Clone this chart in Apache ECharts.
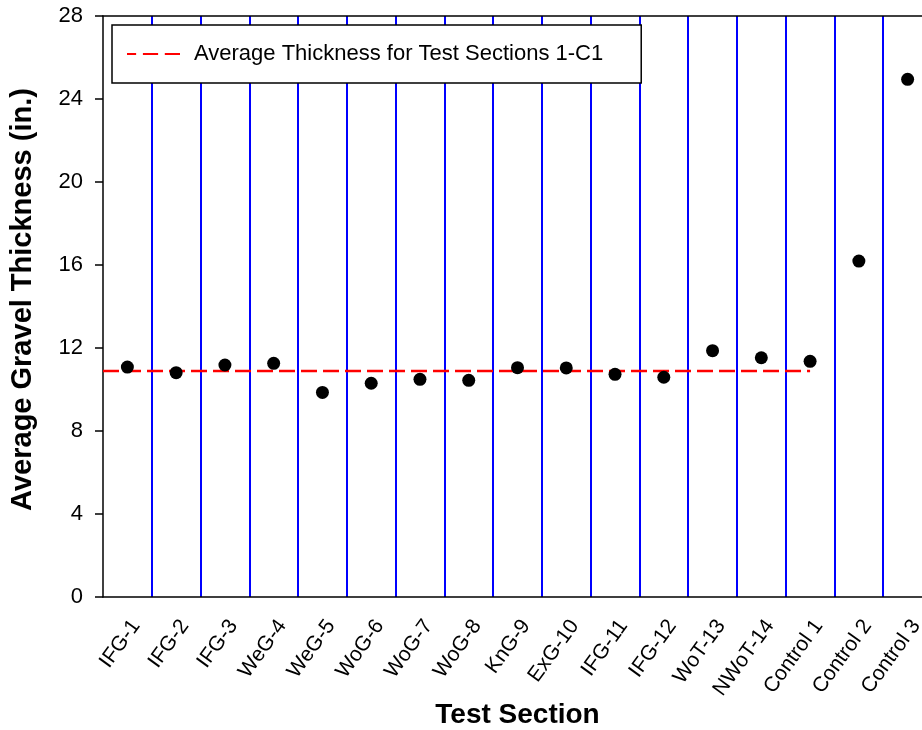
<!DOCTYPE html>
<html>
<head>
<meta charset="utf-8">
<script src="https://cdn.jsdelivr.net/npm/echarts@6/dist/echarts.min.js"></script>
<style>
    html, body {margin: 0; padding: 0; background: #fff; overflow: hidden;}
    #chartBox {width: 922px; height: 730px;}
</style>
</head>
<body>
<div id="chartBox"></div>
<script>
var font = 'Liberation Sans, Arial, sans-serif';

// test sections and thickness readings
var sections = ['IFG-1', 'IFG-2', 'IFG-3', 'WeG-4', 'WeG-5', 'WoG-6', 'WoG-7', 'WoG-8', 'KnG-9',
    'ExG-10', 'IFG-11', 'IFG-12', 'WoT-13', 'NWoT-14', 'Control 1', 'Control 2', 'Control 3'];
var thickness = [11.08, 10.81, 11.18, 11.26, 9.86, 10.30, 10.49, 10.44, 11.05,
    11.04, 10.73, 10.59, 11.87, 11.53, 11.36, 16.19, 24.95];

// average line for sections 1 - C1 (x in section units, 1 = IFG-1)
var avgName = 'Average Thickness for Test Sections 1-C1';
var avgX = [0.5, 15];
var avgY = [10.89, 10.89];

var yTicks = [0, 4, 8, 12, 16, 20, 24, 28];

var myChart1 = echarts.init(document.getElementById('chartBox'));

var avgData = [];
for (var i = 0; i < avgX.length; i++) {
    avgData.push([avgX[i], avgY[i]]);
}

// dashed legend sample
var dashIcon = 'path://M0,0h9v2h-9zM15.7,0h15v2h-15zM37.3,0h15v2h-15z';

var option = {
    animation: false,
    textStyle: {fontFamily: font},
    // plot runs past the right edge of the picture (last section is cut off)
    grid: {left: 103, width: 829, top: 16, bottom: 133, containLabel: false, outerBoundsMode: 'none'},
    legend: {
        left: 112,
        top: 25,
        orient: 'vertical',
        data: [{name: avgName, icon: dashIcon, itemStyle: {color: '#ff0000'}}],
        backgroundColor: '#fff',
        borderColor: '#000',
        borderWidth: 1.5,
        borderRadius: 0,
        padding: [18, 38, 18, 15],
        itemWidth: 53,
        itemHeight: 2.5,
        selectedMode: false,
        textStyle: {fontFamily: font, fontSize: 22, color: '#000', padding: [0, 0, 0, 9]}
    },
    xAxis: [
        {
            type: 'category',
            data: sections,
            boundaryGap: true,
            name: 'Test Section',
            nameLocation: 'middle',
            nameGap: 104,
            nameMoveOverlap: false,
            nameTextStyle: {fontFamily: font, fontSize: 28, fontWeight: 'bold', color: '#000'},
            axisLine: {lineStyle: {color: '#000', width: 1.5}},
            axisTick: {show: false},
            axisLabel: {
                interval: 0,
                rotate: 54,
                margin: 19,
                verticalAlign: 'top',
                fontFamily: font,
                fontSize: 21,
                color: '#000'
            },
            splitLine: {
                show: true,
                interval: function (index) {
                    return index > 0 && index < sections.length;
                },
                lineStyle: {color: '#0000ff', width: 2}
            },
            z: 3
        },
        {
            type: 'value',
            position: 'top',
            min: 0.5,
            max: 17.5,
            axisLine: {show: true, onZero: false, lineStyle: {color: '#000', width: 1.5}},
            axisTick: {show: false},
            axisLabel: {show: false},
            splitLine: {show: false},
            z: 3
        }
    ],
    yAxis: {
        type: 'value',
        min: yTicks[0],
        max: yTicks[yTicks.length - 1],
        interval: 4,
        name: 'Average Gravel Thickness (in.)',
        nameLocation: 'middle',
        nameGap: 66,
        nameMoveOverlap: false,
        nameTextStyle: {fontFamily: font, fontSize: 29, fontWeight: 'bold', color: '#000', padding: [0, 0, 0, 14]},
        axisLine: {show: true, lineStyle: {color: '#000', width: 1.5}},
        axisTick: {show: true, length: 8, lineStyle: {color: '#000', width: 1.5}},
        axisLabel: {margin: 20, fontFamily: font, fontSize: 22, color: '#000'},
        splitLine: {show: false},
        z: 3
    },
    series: [
        {
            name: 'Thickness',
            type: 'scatter',
            xAxisIndex: 0,
            data: thickness,
            symbol: 'circle',
            symbolSize: 13,
            itemStyle: {color: '#000', opacity: 1},
            z: 5
        },
        {
            name: avgName,
            type: 'line',
            xAxisIndex: 1,
            data: avgData,
            symbol: 'none',
            lineStyle: {color: '#ff0000', width: 2.5, type: [16, 6]},
            itemStyle: {color: '#ff0000'},
            z: 4
        }
    ]
};
myChart1.setOption(option);
</script>
</body>
</html>
